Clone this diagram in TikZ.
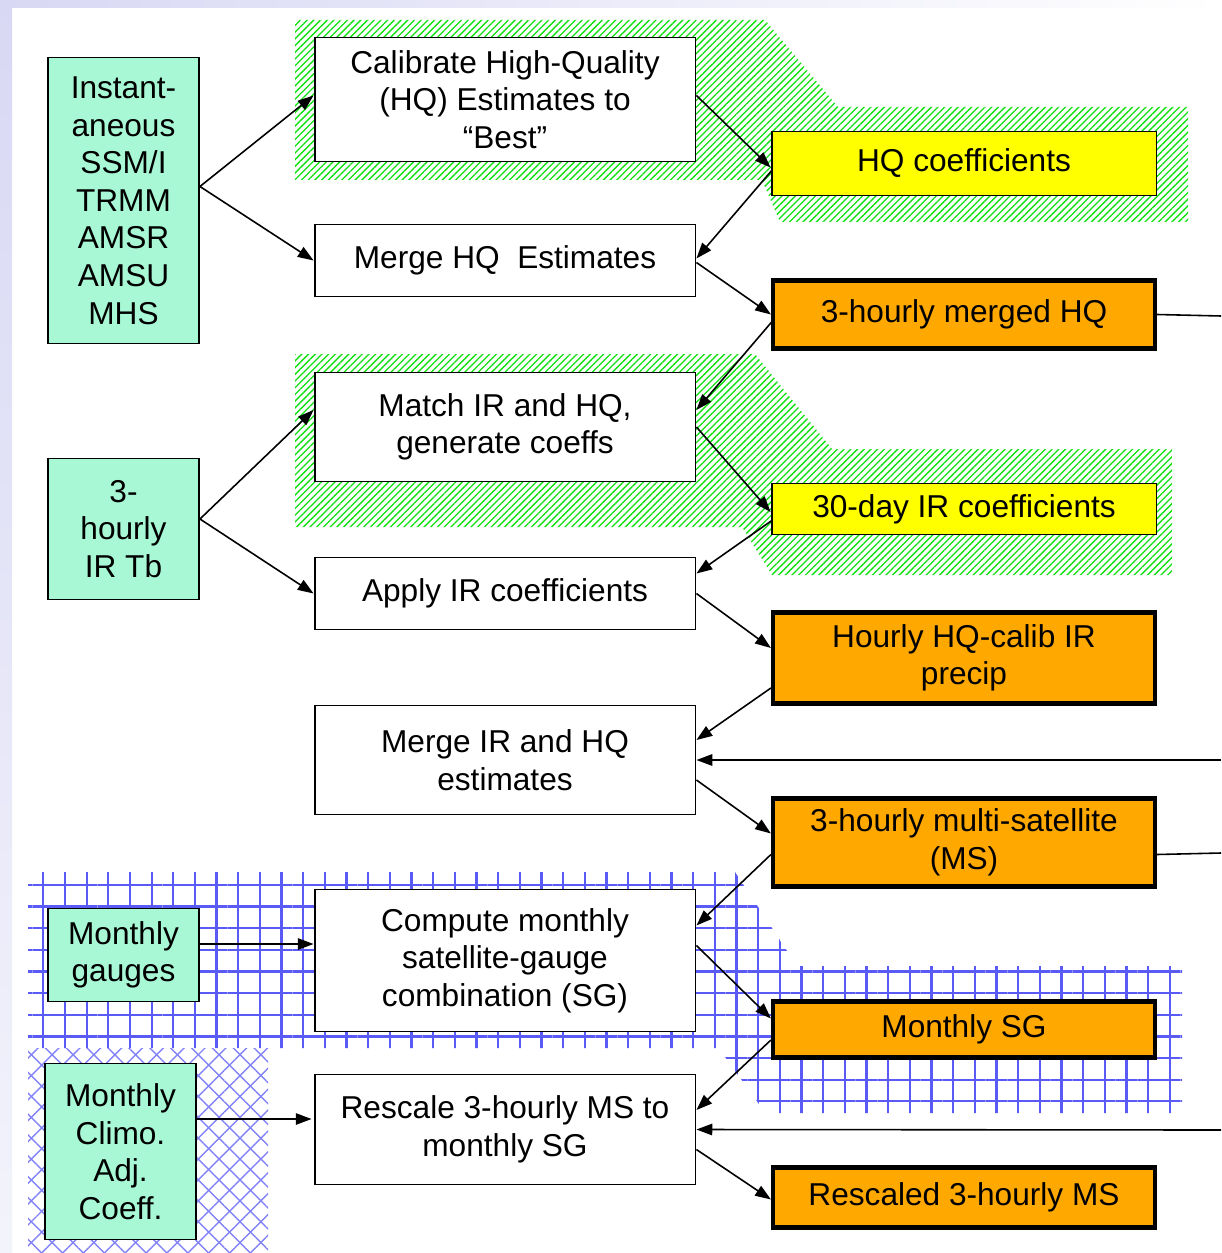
\documentclass[tikz,border=0pt]{standalone}
\usepackage{fontspec}
\setmainfont{Liberation Sans}
\usepackage{xcolor}
\definecolor{aqua}{HTML}{A8F8D6}
\definecolor{lemon}{HTML}{FFFF00}
\definecolor{amber}{HTML}{FFA800}
\definecolor{hatch}{HTML}{10E010}
\definecolor{gridblue}{HTML}{5A5AF6}
\definecolor{lavender}{HTML}{D8D8F4}
\usetikzlibrary{positioning, arrows.meta, patterns.meta, calc}
\tikzstyle{inbox} = [draw=black, line width=1.1pt, fill=aqua, align=center, minimum width=3.02cm]
\tikzstyle{stepbox} = [draw=black, line width=1.1pt, fill=white, align=center, minimum width=7.62cm]
\tikzstyle{coefbox} = [draw=black, line width=1.1pt, fill=lemon, align=center, minimum width=7.7cm]
\tikzstyle{prodbox} = [draw=black, line width=2.4pt, fill=amber, align=center, minimum width=7.64cm]
\tikzstyle{flow} = [-{Triangle[length=9pt, width=6.5pt]}, line width=0.9pt]

\begin{document}
\begin{tikzpicture}[x=0.02cm, y=-0.02cm, font=\fontsize{18}{21.4}\selectfont]
	\useasboundingbox (0,0) rectangle (1221,1253);
	%background
	\shade[left color=lavender, right color=white] (0,0) rectangle (1221,8);
	\shade[top color=lavender, bottom color=lavender!30] (0,0) rectangle (12,1253);

	%shaded areas
	\fill[pattern={Lines[angle=45, distance=2.7pt, line width=0.75pt]}, pattern color=hatch] (295,20) -- (765,20) -- (838,107) -- (1188,107) -- (1188,222) -- (780,222) -- (762,180) -- (295,180) -- cycle;
	\fill[pattern={Lines[angle=45, distance=2.7pt, line width=0.75pt]}, pattern color=hatch] (295,354) -- (755,354) -- (832,449) -- (1172,449) -- (1172,575) -- (772,575) -- (742,527) -- (295,527) -- cycle;
	\fill[pattern={Hatch[distance=12.33pt, line width=1.3pt]}, pattern color=gridblue] (28,872) -- (735,872) -- (797,966) -- (1182,966) -- (1182,1113) -- (765,1113) -- (752,1094) -- (718,1048) -- (28,1048) -- cycle;
	\fill[pattern={Lines[angle=45, distance=8.4pt, line width=0.8pt]}, pattern color=gridblue!75] (28,1048) rectangle (268,1253);
	\fill[pattern={Lines[angle=-45, distance=8.4pt, line width=0.8pt]}, pattern color=gridblue!75] (28,1048) rectangle (268,1253);

	%diagram
	\node[inbox, minimum height=5.72cm] (inst) at (123.5,200.5) {Instant-\\aneous\\SSM/I\\TRMM\\AMSR\\AMSU\\MHS};
	\node[inbox, minimum height=2.82cm] (irtb) at (123.5,529) {3-\\hourly\\IR Tb};
	\node[inbox, minimum height=1.86cm] (gauges) at (123.5,955) {Monthly\\gauges};
	\node[inbox, minimum height=3.52cm] (climo) at (120.5,1151.5) {Monthly\\Climo.\\Adj.\\Coeff.};

	\node[stepbox, minimum height=2.48cm] (calib) at (505,99.5) {Calibrate High-Quality\\(HQ) Estimates to\\“Best”};
	\node[stepbox, minimum height=1.44cm] (mergehq) at (505,260.5) {Merge HQ~ Estimates};
	\node[stepbox, minimum height=2.18cm] (match) at (505,427) {Match IR and HQ,\\generate coeffs};
	\node[stepbox, minimum height=1.44cm] (apply) at (505,593.5) {Apply IR coefficients};
	\node[stepbox, minimum height=2.18cm] (mergeir) at (505,760) {Merge IR and HQ\\estimates};
	\node[stepbox, minimum height=2.84cm] (compute) at (505,960.5) {Compute monthly\\satellite-gauge\\combination (SG)};
	\node[stepbox, minimum height=2.2cm] (rescale) at (505,1129.5) {Rescale 3-hourly MS to\\monthly SG};

	\node[coefbox, minimum height=1.28cm] (hqcoef) at (964,163.5) {HQ coefficients};
	\node[prodbox, minimum height=1.36cm] (hq3) at (964,314.5) {3-hourly merged HQ};
	\node[coefbox, minimum height=1.02cm] (ircoef) at (964,509) {30-day IR coefficients};
	\node[prodbox, minimum height=1.82cm] (hourly) at (964,658) {Hourly HQ-calib IR\\precip};
	\node[prodbox, minimum height=1.76cm] (ms3) at (964,842.5) {3-hourly multi-satellite\\(MS)};
	\node[prodbox, minimum height=1.12cm] (msg) at (964,1029.5) {Monthly SG};
	\node[prodbox, minimum height=1.2cm] (rescaled) at (964,1197.5) {Rescaled 3-hourly MS};

	%off-page links
	\coordinate (outhq) at (1221,316);
	\coordinate (inhq) at (1221,760);
	\coordinate (outms) at (1221,853);
	\coordinate (inms) at (1221,1130);

	%connectors
	\draw[flow] ($(inst.east)+(0,-14)$) -- ($(calib.west)+(0,-4)$);
	\draw[flow] ($(inst.east)+(0,-14)$) -- (mergehq.west);
	\draw[flow] ($(calib.east)+(0,-4)$) -- ($(hqcoef.west)+(0,4)$);
	\draw[flow] ($(hqcoef.west)+(2,6)$) -- ($(mergehq.east)+(0,-2)$);
	\draw[flow] ($(mergehq.east)+(0,2)$) -- (hq3.west);
	\draw[flow] ($(hq3.west)+(2,6)$) -- ($(match.east)+(0,-17)$);
	\draw[flow] (match.east) -- ($(ircoef.west)+(0,3)$);
	\draw[flow] ($(irtb.east)+(0,-10)$) -- ($(match.west)+(0,-17)$);
	\draw[flow] ($(irtb.east)+(0,-10)$) -- (apply.west);
	\draw[flow] ($(ircoef.west)+(2,11)$) -- ($(apply.east)+(0,-20)$);
	\draw[flow] (apply.east) -- ($(hourly.west)+(0,-10)$);
	\draw[flow] ($(hourly.west)+(0,30)$) -- ($(mergeir.east)+(0,-20)$);
	\draw[flow] (inhq) -- (mergeir.east);
	\draw[flow] ($(mergeir.east)+(0,20)$) -- ($(ms3.west)+(0,-9)$);
	\draw[flow] ($(ms3.west)+(0,12)$) -- ($(compute.east)+(0,-35)$);
	\draw[flow] ($(gauges.east)+(0,-11)$) -- ($(compute.west)+(0,-16.5)$);
	\draw[flow] ($(compute.east)+(0,-15)$) -- ($(msg.west)+(0,-11)$);
	\draw[flow] ($(msg.west)+(0,10.5)$) -- ($(rescale.east)+(0,-19.5)$);
	\draw[flow] (inms) -- (rescale.east);
	\draw[flow] ($(climo.east)+(0,-32.5)$) -- ($(rescale.west)+(-2,-10.5)$);
	\draw[flow] ($(rescale.east)+(0,20)$) -- ($(rescaled.west)+(0,2)$);
	\draw[line width=0.9pt] (hq3.east) -- (outhq);
	\draw[line width=0.9pt] ($(ms3.east)+(0,12)$) -- (outms);
\end{tikzpicture}
\end{document}
